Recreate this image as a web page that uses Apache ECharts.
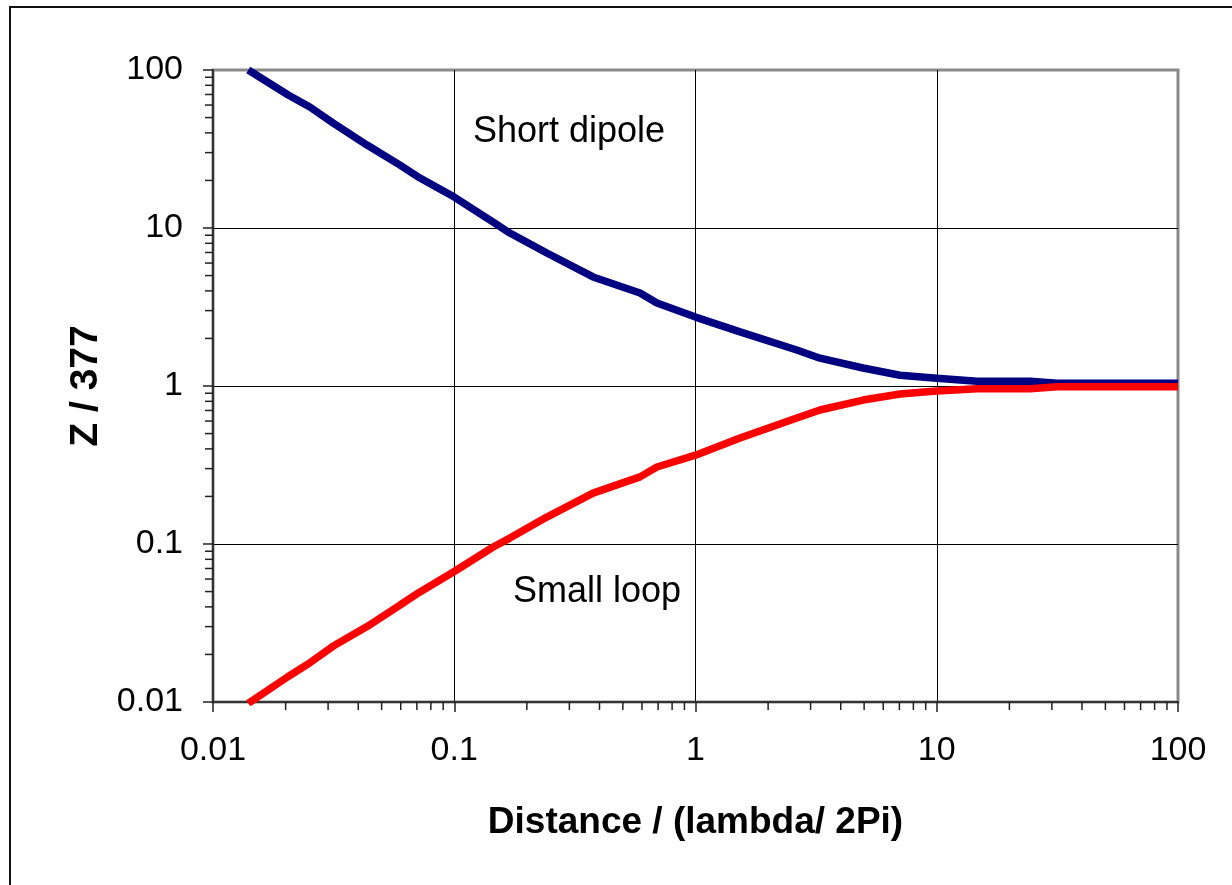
<!DOCTYPE html>
<html>
<head>
<meta charset="utf-8">
<script src="https://cdn.jsdelivr.net/npm/echarts@6/dist/echarts.min.js"></script>
<style>
  html, body { margin: 0; padding: 0; background: #fff; }
  #chart { width: 1232px; height: 885px; }
</style>
</head>
<body>
<div id="chart"></div>
<script>
// Distance / (lambda / 2Pi)
const distance = [0.0140, 0.0205, 0.0252, 0.0314, 0.0435, 0.0596, 0.0721, 0.100, 0.145, 0.170, 0.242, 0.376, 0.589, 0.692, 1.00, 1.53, 2.63, 3.28, 4.95, 7.04, 10.0, 14.7, 24.4, 31.5, 100];
// Z / 377 for a short dipole
const shortDipole = [100, 69.5, 58.3, 46.3, 33.5, 25.0, 20.7, 15.7, 10.9, 9.29, 6.95, 4.90, 3.88, 3.35, 2.73, 2.20, 1.69, 1.50, 1.30, 1.17, 1.12, 1.07, 1.07, 1.04, 1.04];
// Z / 377 for a small loop
const smallLoop = [0.0098, 0.0145, 0.0177, 0.0225, 0.0300, 0.0411, 0.0497, 0.0670, 0.0957, 0.109, 0.148, 0.210, 0.266, 0.307, 0.365, 0.469, 0.627, 0.705, 0.815, 0.889, 0.929, 0.960, 0.960, 0.990, 0.990];
// axis ticks (log decades) and minor tick values
const tickLabels = ['0.01', '0.1', '1', '10', '100'];
const minorTicks = [0.02,0.03,0.04,0.05,0.06,0.07,0.08,0.09,
                    0.2,0.3,0.4,0.5,0.6,0.7,0.8,0.9,
                    2,3,4,5,6,7,8,9,
                    20,30,40,50,60,70,80,90];
const seriesNames = ['Short dipole', 'Small loop'];

const FONT = '"Liberation Sans", Arial, sans-serif';

function fmt(v) {
  return String(Number(v.toPrecision(6)));
}

const chart = echarts.init(document.getElementById('chart'), null, { renderer: 'canvas' });

function minorTickSeries(axis) {
  return {
    type: 'custom',
    silent: true,
    clip: false,
    z: 5,
    data: minorTicks.map(v => axis === 'x' ? [v, 0.01] : [0.01, v]),
    renderItem: function (params, api) {
      const p = api.coord([api.value(0), api.value(1)]);
      const shape = axis === 'x'
        ? { x1: p[0], y1: p[1], x2: p[0], y2: p[1] + 8 }
        : { x1: p[0] - 8, y1: p[1], x2: p[0], y2: p[1] };
      return { type: 'line', shape: shape, style: { stroke: '#222', lineWidth: 1.5 } };
    }
  };
}

const option = {
  animation: false,
  backgroundColor: '#fff',
  grid: {
    left: 213, right: 54, top: 70, bottom: 183,
    show: true, borderColor: '#8a8a8a', borderWidth: 3, backgroundColor: '#fff'
  },
  xAxis: {
    type: 'log', logBase: 10, min: 0.01, max: 100,
    name: 'Distance / (lambda/ 2Pi)',
    nameLocation: 'middle', nameGap: 102,
    nameTextStyle: { fontFamily: FONT, fontSize: 37, fontWeight: 'bold', color: '#000' },
    axisLine: { show: true, lineStyle: { color: '#333', width: 2 } },
    axisTick: { show: true, length: 10, lineStyle: { color: '#222', width: 1.5 } },
    axisLabel: { fontFamily: FONT, fontSize: 34, color: '#000', margin: 32, formatter: fmt },
    splitLine: { show: true, showMinLine: false, showMaxLine: false, lineStyle: { color: '#000', width: 1 } }
  },
  yAxis: {
    type: 'log', logBase: 10, min: 0.01, max: 100,
    name: 'Z / 377',
    nameLocation: 'middle', nameGap: 100, nameRotate: 90,
    nameTextStyle: { fontFamily: FONT, fontSize: 39, fontWeight: 'bold', color: '#000' },
    axisLine: { show: true, lineStyle: { color: '#333', width: 2 } },
    axisTick: { show: true, length: 10, lineStyle: { color: '#222', width: 1.5 } },
    axisLabel: { fontFamily: FONT, fontSize: 34, color: '#000', margin: 30, formatter: fmt },
    splitLine: { show: true, showMinLine: false, showMaxLine: false, lineStyle: { color: '#000', width: 1 } }
  },
  graphic: [
    { type: 'rect', silent: true, z: 100,
      shape: { x: 10, y: 7, width: 1400, height: 1000 },
      style: { fill: 'none', stroke: '#111', lineWidth: 2 } },
    { type: 'text', silent: true, z: 100, left: 473, top: 114,
      style: { text: seriesNames[0], font: '36px ' + FONT, fill: '#000' } },
    { type: 'text', silent: true, z: 100, left: 513, top: 574,
      style: { text: seriesNames[1], font: '36px ' + FONT, fill: '#000' } }
  ],
  series: [
    {
      name: seriesNames[0], type: 'line', symbol: 'none', smooth: false, z: 3,
      data: distance.map((d, i) => [d, shortDipole[i]]),
      lineStyle: { color: '#000080', width: 7.5 }
    },
    {
      name: seriesNames[1], type: 'line', symbol: 'none', smooth: false, z: 4,
      data: distance.map((d, i) => [d, smallLoop[i]]),
      lineStyle: { color: '#ff0000', width: 7.5 }
    },
    minorTickSeries('x'),
    minorTickSeries('y')
  ]
};
chart.setOption(option);
</script>
</body>
</html>
